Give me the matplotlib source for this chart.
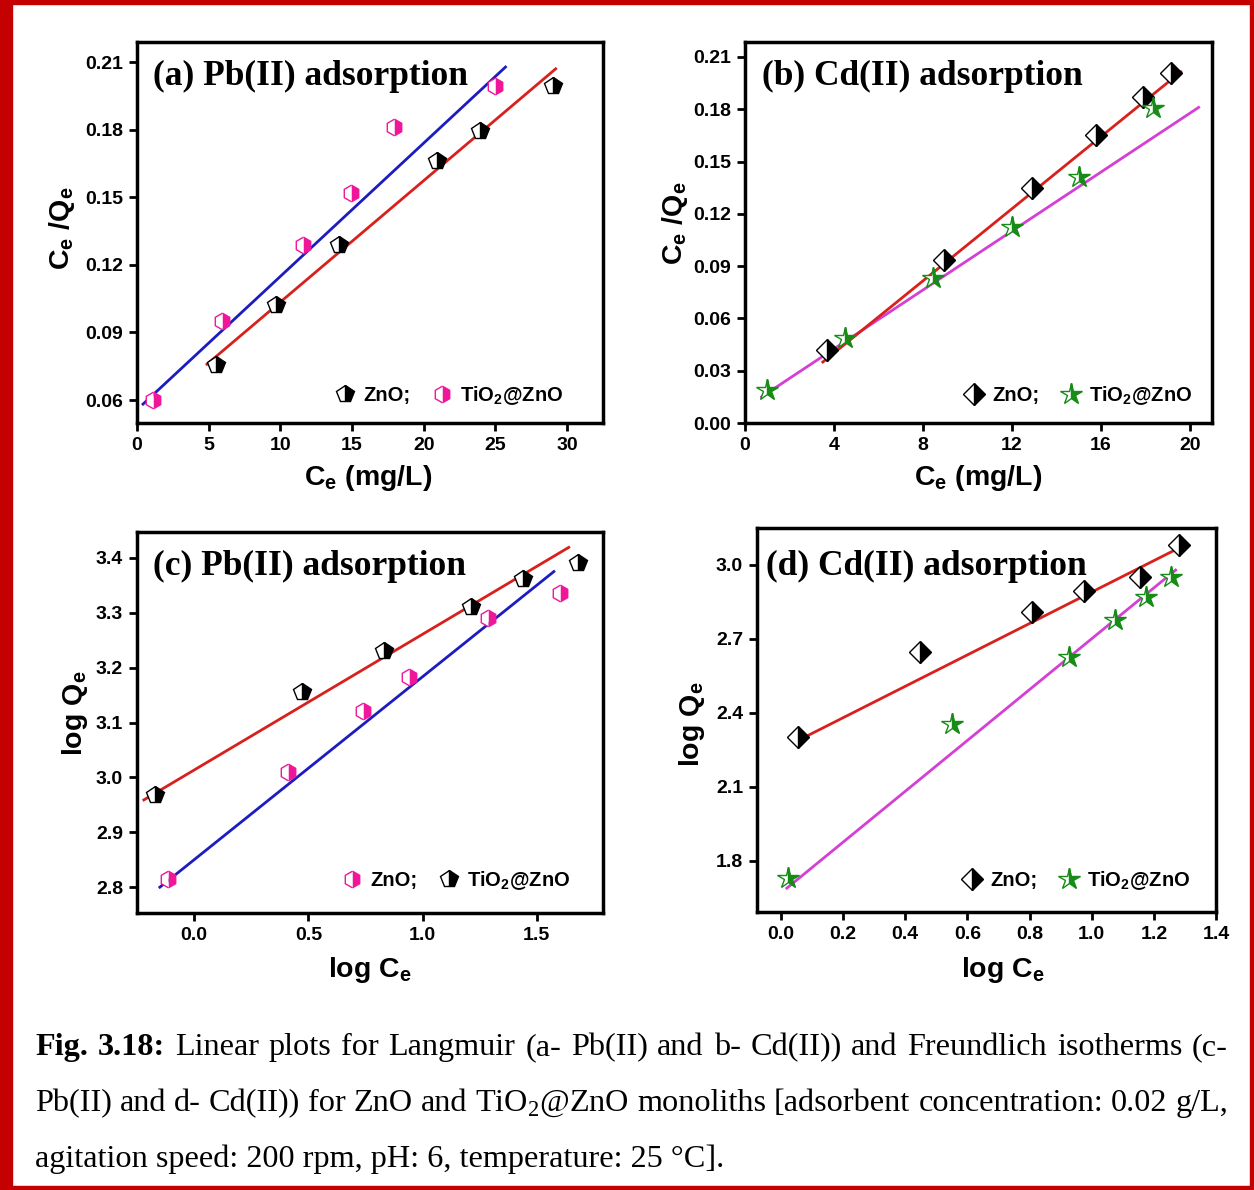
import numpy as np
import matplotlib
matplotlib.use("Agg")
import matplotlib.pyplot as plt
from matplotlib.patches import Rectangle

plt.rcParams['font.family'] = ['Liberation Sans', 'DejaVu Sans']
plt.rcParams['font.weight'] = 'bold'

# ---- data ----
# (a) Langmuir, Pb(II)
a_zno_x = [5.5, 9.7, 14.1, 20.9, 23.9, 29.0]
a_zno_y = [0.0755, 0.102, 0.1286, 0.166, 0.1795, 0.1994]
a_tio_x = [1.1, 5.9, 11.6, 14.9, 17.9, 25.0]
a_tio_y = [0.060, 0.095, 0.129, 0.152, 0.181, 0.1994]
a_zno_fit = [0.00539, 0.0496]      # slope, intercept
a_zno_fit_x = [4.88, 29.2]
a_tio_fit = [0.005918, 0.0557]
a_tio_fit_x = [0.42, 25.7]

# (b) Langmuir, Cd(II)
b_zno_x = [3.7, 8.95, 12.9, 15.8, 17.9, 19.15]
b_zno_y = [0.042, 0.0935, 0.135, 0.165, 0.187, 0.2008]
b_tio_x = [1.0, 4.5, 8.45, 12.0, 15.0, 18.35]
b_tio_y = [0.019, 0.0488, 0.083, 0.1125, 0.141, 0.181]
b_zno_fit = [0.01034, -0.0012]
b_zno_fit_x = [3.5, 19.6]
b_tio_fit = [0.00845, 0.0087]
b_tio_fit_x = [0.75, 20.4]

# (c) Freundlich, Pb(II)
c_zno_x = [-0.114, 0.41, 0.74, 0.94, 1.285, 1.60]
c_zno_y = [2.815, 3.01, 3.121, 3.183, 3.291, 3.335]
c_tio_x = [-0.17, 0.474, 0.83, 1.21, 1.44, 1.68]
c_tio_y = [2.968, 3.156, 3.231, 3.311, 3.362, 3.391]
c_zno_fit = [0.3333, 2.85]
c_zno_fit_x = [-0.15, 1.575]
c_tio_fit = [0.2473, 3.0134]
c_tio_fit_x = [-0.22, 1.64]

# (d) Freundlich, Cd(II)
d_zno_x = [0.055, 0.446, 0.809, 0.975, 1.155, 1.28]
d_zno_y = [2.303, 2.647, 2.809, 2.894, 2.951, 3.081]
d_tio_x = [0.022, 0.552, 0.927, 1.075, 1.174, 1.254]
d_tio_y = [1.731, 2.355, 2.627, 2.777, 2.87, 2.951]
d_zno_fit = [0.6369, 2.2533]
d_zno_fit_x = [0.045, 1.287]
d_tio_fit = [1.031, 1.670]
d_tio_fit_x = [0.019, 1.27]

caption_bold = "Fig. 3.18:"
caption_lines = [
    "Linear plots for Langmuir (a- Pb(II) and b- Cd(II)) and Freundlich isotherms (c-",
    "Pb(II) and d- Cd(II)) for ZnO and TiO$_\\mathregular{2}$@ZnO monoliths [adsorbent concentration: 0.02 g/L,",
    "agitation speed: 200 rpm, pH: 6, temperature: 25 \u00b0C].",
]

RED = '#d8201c'
BLUE = '#1c1cc0'
MAG = '#d43fd4'
PINK = '#f0169a'
GREEN = '#168c16'

W, H = 1254, 1190
fig = plt.figure(figsize=(W / 100, H / 100), dpi=100)


def px_axes(l, r, t, b):
    return fig.add_axes([l / W, 1 - b / H, (r - l) / W, (b - t) / H])


def half_marker(ax, x, y, marker, color, size, label):
    return ax.plot(x, y, linestyle='none', marker=marker, markersize=size,
                   fillstyle='right', markerfacecolor=color,
                   markerfacecoloralt='white', markeredgecolor=color,
                   markeredgewidth=1.0, label=label, zorder=3)[0]


def style(ax, xlim, ylim, xticks, yticks, yfmt, title, title_pos,
          xlabel, xlab_pos, ylabel, ylab_pos):
    ax.set_xlim(xlim)
    ax.set_ylim(ylim)
    ax.set_xticks(xticks)
    ax.set_yticks(yticks)
    ax.set_yticklabels([yfmt % v for v in yticks])
    for s in ax.spines.values():
        s.set_linewidth(2.5)
    ax.tick_params(direction='out', length=6, width=2, labelsize=14, pad=4)
    ax.text(title_pos[0], title_pos[1], title, transform=ax.transAxes,
            family='Liberation Serif', fontsize=25.5, fontweight='bold',
            va='baseline', ha='left')
    ax.set_xlabel(xlabel, fontsize=20.5, fontweight='bold')
    ax.xaxis.set_label_coords(*xlab_pos)
    ax.set_ylabel(ylabel, fontsize=20.5, fontweight='bold')
    ax.yaxis.set_label_coords(*ylab_pos)


def legend(ax, handles, labels, anchor):
    ax.legend(handles, labels, loc='center right', bbox_to_anchor=anchor,
              ncol=2, frameon=False, fontsize=14.5, handlelength=0.9,
              handletextpad=0.45, columnspacing=1.1, borderpad=0,
              borderaxespad=0)


def fit_line(ax, fx, fit, color):
    fx = np.array(fx)
    ax.plot(fx, fit[0] * fx + fit[1], color=color, lw=2.0, zorder=2)


sub_e = '$_\\mathregular{e}$'
tio_lab = 'TiO$_\\mathregular{2}$@ZnO'

# (a)
ax = px_axes(137, 603, 42, 423)
fit_line(ax, a_tio_fit_x, a_tio_fit, BLUE)
fit_line(ax, a_zno_fit_x, a_zno_fit, RED)
h1 = half_marker(ax, a_zno_x, a_zno_y, 'p', 'black', 13, 'ZnO;')
h2 = half_marker(ax, a_tio_x, a_tio_y, 'h', PINK, 12, tio_lab)
style(ax, (0, 32.5), (0.0498, 0.2189), range(0, 31, 5),
      [0.06, 0.09, 0.12, 0.15, 0.18, 0.21], '%.2f',
      '(a) Pb(II) adsorption', (0.034, 0.887),
      'C' + sub_e + ' (mg/L)', (0.496, -0.105),
      'C' + sub_e + ' /Q' + sub_e, (-0.129, 0.51))
legend(ax, [h1, h2], ['ZnO;', tio_lab], (0.914, 0.073))

# (b)
ax = px_axes(745, 1212, 42, 423)
fit_line(ax, b_tio_fit_x, b_tio_fit, MAG)
fit_line(ax, b_zno_fit_x, b_zno_fit, RED)
h1 = half_marker(ax, b_zno_x, b_zno_y, 'D', 'black', 11, 'ZnO;')
h2 = half_marker(ax, b_tio_x, b_tio_y, '*', GREEN, 16, tio_lab)
style(ax, (0, 21.0), (0, 0.2186), range(0, 21, 4),
      [0.0, 0.03, 0.06, 0.09, 0.12, 0.15, 0.18, 0.21], '%.2f',
      '(b) Cd(II) adsorption', (0.036, 0.887),
      'C' + sub_e + ' (mg/L)', (0.499, -0.105),
      'C' + sub_e + ' /Q' + sub_e, (-0.118, 0.525))
legend(ax, [h1, h2], ['ZnO;', tio_lab], (0.957, 0.071))

# (c)
ax = px_axes(137, 603, 532, 913)
fit_line(ax, c_tio_fit_x, c_tio_fit, RED)
fit_line(ax, c_zno_fit_x, c_zno_fit, BLUE)
h1 = half_marker(ax, c_zno_x, c_zno_y, 'h', PINK, 12, 'ZnO;')
h2 = half_marker(ax, c_tio_x, c_tio_y, 'p', 'black', 13, tio_lab)
style(ax, (-0.25, 1.79), (2.753, 3.447), [0.0, 0.5, 1.0, 1.5],
      [2.8, 2.9, 3.0, 3.1, 3.2, 3.3, 3.4], '%.1f',
      '(c) Pb(II) adsorption', (0.034, 0.887),
      'log C' + sub_e, (0.5, -0.11),
      'log Q' + sub_e, (-0.1, 0.525))
ax.set_xticklabels(['%.1f' % v for v in [0.0, 0.5, 1.0, 1.5]])
legend(ax, [h1, h2], ['ZnO;', tio_lab], (0.929, 0.084))

# (d)
ax = px_axes(757, 1216, 528, 912)
fit_line(ax, d_zno_fit_x, d_zno_fit, RED)
fit_line(ax, d_tio_fit_x, d_tio_fit, MAG)
h1 = half_marker(ax, d_zno_x, d_zno_y, 'D', 'black', 11, 'ZnO;')
h2 = half_marker(ax, d_tio_x, d_tio_y, '*', GREEN, 16, tio_lab)
dx = [0.0, 0.2, 0.4, 0.6, 0.8, 1.0, 1.2, 1.4]
style(ax, (-0.077, 1.4), (1.593, 3.15), dx,
      [1.8, 2.1, 2.4, 2.7, 3.0], '%.1f',
      '(d) Cd(II) adsorption', (0.02, 0.878),
      'log C' + sub_e, (0.536, -0.112),
      'log Q' + sub_e, (-0.109, 0.49))
ax.set_xticklabels(['%.1f' % v for v in dx])
legend(ax, [h1, h2], ['ZnO;', tio_lab], (0.943, 0.083))

# red frame
for rx, ry, rw, rh in [(0, 0, 12, H), (W - 4, 0, 4, H), (0, 0, W, 4), (0, H - 4, W, 4)]:
    fig.patches.append(Rectangle((rx / W, 1 - (ry + rh) / H), rw / W, rh / H,
                                 transform=fig.transFigure, color='#c40000',
                                 zorder=10))

# caption, justified like the source document
renderer = fig.canvas.get_renderer()
cap_kw = dict(family='Liberation Serif', fontsize=23.2, fontweight='normal',
              va='baseline', ha='left')
x0, x1 = 35, 1228
baselines = [1055, 1111, 1167]


def place_words(items, y):
    objs = []
    for word, bold in items:
        t = fig.text(0, 1 - y / H, word, **cap_kw)
        if bold:
            t.set_fontweight('bold')
        objs.append(t)
    widths = [t.get_window_extent(renderer).width for t in objs]
    gap = (x1 - x0 - sum(widths)) / (len(objs) - 1)
    x = x0
    for t, w in zip(objs, widths):
        t.set_x(x / W)
        x += w + gap


line1 = [(w, True) for w in caption_bold.split()] + [(w, False) for w in caption_lines[0].split()]
place_words(line1, baselines[0])
place_words([(w, False) for w in caption_lines[1].split()], baselines[1])
fig.text(x0 / W, 1 - baselines[2] / H, caption_lines[2], **cap_kw)

fig.savefig('out.png', dpi=100)
